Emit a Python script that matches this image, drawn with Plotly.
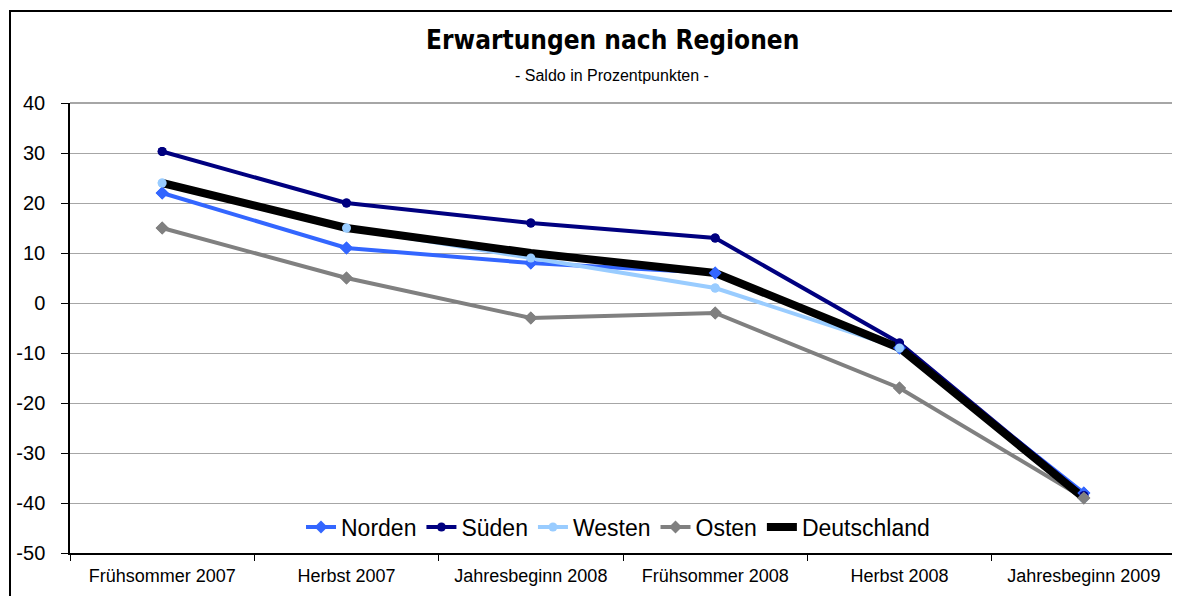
import plotly.graph_objects as go

categories = ["Frühsommer 2007", "Herbst 2007", "Jahresbeginn 2008",
              "Frühsommer 2008", "Herbst 2008", "Jahresbeginn 2009"]
norden = [22, 11, 8, 6, -9, -38]
sueden = [30.3, 20, 16, 13, -8, -38.5]
westen = [24, 15, 9, 3, -9, -39]
osten = [15, 5, -3, -2, -17, -39]
deutschland = [24, 15, 10, 6, -9, -39]

y_ticks = [40, 30, 20, 10, 0, -10, -20, -30, -40, -50]

series = [
    ("Norden", norden, "#3366FF", "diamond", 4, 10),
    ("Süden", sueden, "#000080", "circle", 4, 9),
    ("Westen", westen, "#99CCFF", "circle", 4, 9),
    ("Osten", osten, "#808080", "diamond", 4, 10),
]

OFF = 8  # page body margin offset
W, H = 1180 - OFF, 596 - OFF
SL, ST, SR, SB = 70, 103, 1176, 553
L, T = SL - OFF, ST - OFF
R = W - (SR - OFF)
B = H - (SB - OFF)
pw, ph = W - L - R, H - T - B

fig = go.Figure()
for name, vals, col, sym, lw, ms in series:
    fig.add_trace(go.Scatter(x=categories, y=vals, name=name, mode="lines+markers",
                             line=dict(color=col, width=lw),
                             marker=dict(symbol=sym, size=ms, color=col)))
fig.add_trace(go.Scatter(x=categories, y=deutschland, name="Deutschland", mode="lines",
                         line=dict(color="black", width=8)))
for name, vals, col, sym, lw, ms in series:
    fig.add_trace(go.Scatter(x=categories, y=vals, mode="markers", showlegend=False,
                             hoverinfo="skip",
                             marker=dict(symbol=sym, size=ms, color=col)))

def px_x(p):
    return (p - OFF - L) / pw

def px_y(p):
    return 1 - (p - OFF - T) / ph

fig.update_layout(
    width=W, height=H,
    margin=dict(l=L, r=R, t=T, b=B),
    paper_bgcolor="white", plot_bgcolor="white",
    font=dict(family="Liberation Sans, Arial", color="black"),
    showlegend=True,
    legend=dict(orientation="h", x=px_x(618), xanchor="center", y=px_y(527), yanchor="middle",
                font=dict(size=23, family="Liberation Sans, Arial"),
                bgcolor="rgba(255,255,255,0)", tracegroupgap=0),
    xaxis=dict(type="category", range=[-0.5, 5.5], showgrid=False,
               showline=True, linecolor="black", linewidth=1.5,
               ticks="outside", tickson="boundaries", ticklen=6, tickcolor="black",
               tickfont=dict(size=18), ticklabelstandoff=6, fixedrange=True),
    yaxis=dict(range=[-50, 40], tickvals=y_ticks, ticktext=[str(v) for v in y_ticks],
               showgrid=True, gridcolor="#A6A6A6", gridwidth=1,
               showline=True, linecolor="black", linewidth=1.5,
               ticks="outside", ticklen=7, tickcolor="black",
               tickfont=dict(size=20), ticklabelstandoff=12,
               zeroline=False, fixedrange=True),
    shapes=[
        dict(type="line", xref="paper", yref="paper", x0=0, x1=1, y0=1, y1=1,
             line=dict(color="#A6A6A6", width=2)),
        dict(type="line", xref="paper", yref="paper", x0=1, x1=1, y0=0, y1=1,
             line=dict(color="#A6A6A6", width=2)),
        dict(type="rect", xref="paper", yref="paper",
             x0=px_x(10), x1=px_x(1220), y0=px_y(640), y1=px_y(11),
             line=dict(color="black", width=2), fillcolor="rgba(0,0,0,0)", layer="below"),
    ],
    annotations=[
        dict(text="<b>Erwartungen nach Regionen</b>", xref="paper", yref="paper",
             x=px_x(612), y=px_y(40), xanchor="center", yanchor="middle", showarrow=False,
             font=dict(size=26, family="DejaVu Sans Condensed", color="black")),
        dict(text="- Saldo in Prozentpunkten -", xref="paper", yref="paper",
             x=px_x(612), y=px_y(75), xanchor="center", yanchor="middle", showarrow=False,
             font=dict(size=16, family="Liberation Sans Narrow, Arial", color="black")),
    ],
)

fig.write_html("out.html")
